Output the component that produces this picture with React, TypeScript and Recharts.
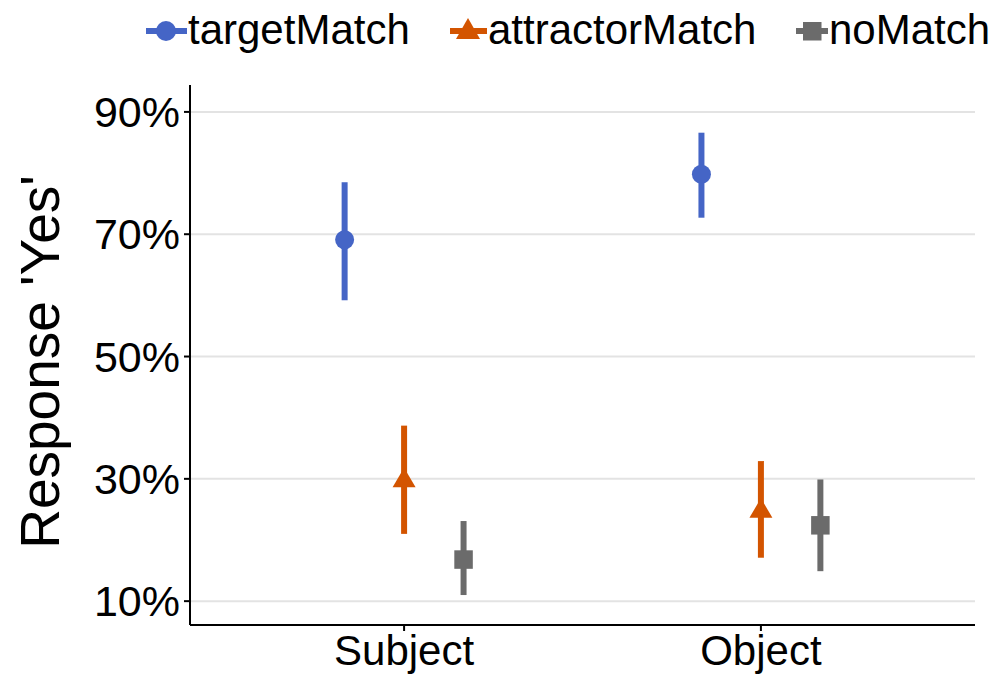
import { ScatterChart, Scatter, XAxis, YAxis, CartesianGrid, ErrorBar, Label } from 'recharts'

// categories on the x axis, ggplot-style discrete positions 1 and 2
const categories = ['Subject', 'Object']
const yTicks = [10, 30, 50, 70, 90]

// means and interval ends, in percent
const targetMean = [69.1, 79.8]
const targetLow = [59.2, 72.7]
const targetHigh = [78.5, 86.6]

const attractorMean = [29.7, 24.7]
const attractorLow = [21.0, 17.1]
const attractorHigh = [38.7, 32.9]

const noMatchMean = [16.8, 22.4]
const noMatchLow = [11.0, 14.9]
const noMatchHigh = [23.1, 29.9]

const BLUE = '#4565C6'
const ORANGE = '#D35400'
const GRAY = '#6B6B6B'
const FONT = '"Liberation Sans", Arial, sans-serif'

const dodge = [-1 / 6, 0, 1 / 6]

const buildSeries = (group: number, mean: number[], low: number[], high: number[]) =>
    categories.map((name, i) => ({
        name,
        x: i + 1 + dodge[group],
        y: mean[i],
        err: [mean[i] - low[i], high[i] - mean[i]],
    }))

const targetData = buildSeries(0, targetMean, targetLow, targetHigh)
const attractorData = buildSeries(1, attractorMean, attractorLow, attractorHigh)
const noMatchData = buildSeries(2, noMatchMean, noMatchLow, noMatchHigh)

const CircleDot = (props: any) => <circle cx={props.cx} cy={props.cy} r={9.5} fill={BLUE} />

const TriangleDot = (props: any) => {
    const h = 19.5
    const w = 11.5
    const { cx, cy } = props
    return (
        <polygon
            points={`${cx},${cy - (2 * h) / 3} ${cx - w},${cy + h / 3} ${cx + w},${cy + h / 3}`}
            fill={ORANGE}
        />
    )
}

const SquareDot = (props: any) => (
    <rect x={props.cx - 9.25} y={props.cy - 9.25} width={18.5} height={18.5} fill={GRAY} />
)

function TopLegend() {
    return (
        <svg width={999} height={70} style={{ position: 'absolute', left: 0, top: 0 }}>
            <g>
                <line x1={146} x2={187} y1={31} y2={31} stroke={BLUE} strokeWidth={6} />
                <circle cx={166} cy={31} r={10} fill={BLUE} />
                <text x={188} y={44} fontSize={42} fontFamily={FONT} fill="#000">targetMatch</text>
            </g>
            <g>
                <line x1={450} x2={487} y1={31} y2={31} stroke={ORANGE} strokeWidth={6} />
                <polygon points="468,18 456,39 480,39" fill={ORANGE} />
                <text x={488} y={44} fontSize={42} fontFamily={FONT} fill="#000">attractorMatch</text>
            </g>
            <g>
                <line x1={796} x2={828} y1={31} y2={31} stroke={GRAY} strokeWidth={6} />
                <rect x={803} y={22} width={18.5} height={18.5} fill={GRAY} />
                <text x={829} y={44} fontSize={42} fontFamily={FONT} fill="#000">noMatch</text>
            </g>
        </svg>
    )
}

export default function App() {
    return (
        <div style={{ position: 'absolute', left: 0, top: 0, width: 999, height: 677, background: '#fff', fontFamily: FONT }}>
            <ScatterChart width={999} height={677} margin={{ top: 85, right: 24, bottom: 0, left: 0 }}>
                <CartesianGrid vertical={false} stroke="#E3E3E3" strokeWidth={2} syncWithTicks />
                <XAxis
                    type="number"
                    dataKey="x"
                    domain={[0.4, 2.6]}
                    allowDataOverflow
                    ticks={[1, 2]}
                    tickFormatter={(v: number) => categories[Math.round(v) - 1]}
                    height={52}
                    tickSize={6}
                    tickMargin={4}
                    axisLine={{ stroke: '#000', strokeWidth: 2 }}
                    tickLine={{ stroke: '#000', strokeWidth: 2 }}
                    tick={{ fill: '#000', fontSize: 42, fontFamily: FONT }}
                />
                <YAxis
                    type="number"
                    dataKey="y"
                    domain={[6.1, 94.4]}
                    allowDataOverflow
                    ticks={yTicks}
                    tickFormatter={(v: number) => `${v}%`}
                    width={190}
                    tickSize={6}
                    tickMargin={4}
                    axisLine={{ stroke: '#000', strokeWidth: 2 }}
                    tickLine={{ stroke: '#000', strokeWidth: 2 }}
                    tick={{ fill: '#000', fontSize: 43, fontFamily: FONT }}
                >
                    <Label
                        content={() => {
                            const x = 59
                            const y = 362
                            return (
                                <text
                                    x={x}
                                    y={y}
                                    transform={`rotate(-90, ${x}, ${y})`}
                                    textAnchor="middle"
                                    fontSize={55}
                                    fontFamily={FONT}
                                    fill="#000"
                                >
                                    Response 'Yes'
                                </text>
                            )
                        }}
                    />
                </YAxis>
                <Scatter data={targetData} shape={CircleDot} isAnimationActive={false}>
                    <ErrorBar dataKey="err" direction="y" width={0} stroke={BLUE} strokeWidth={6} isAnimationActive={false} />
                </Scatter>
                <Scatter data={attractorData} shape={TriangleDot} isAnimationActive={false}>
                    <ErrorBar dataKey="err" direction="y" width={0} stroke={ORANGE} strokeWidth={6} isAnimationActive={false} />
                </Scatter>
                <Scatter data={noMatchData} shape={SquareDot} isAnimationActive={false}>
                    <ErrorBar dataKey="err" direction="y" width={0} stroke={GRAY} strokeWidth={6} isAnimationActive={false} />
                </Scatter>
            </ScatterChart>
            <TopLegend />
        </div>
    )
}
